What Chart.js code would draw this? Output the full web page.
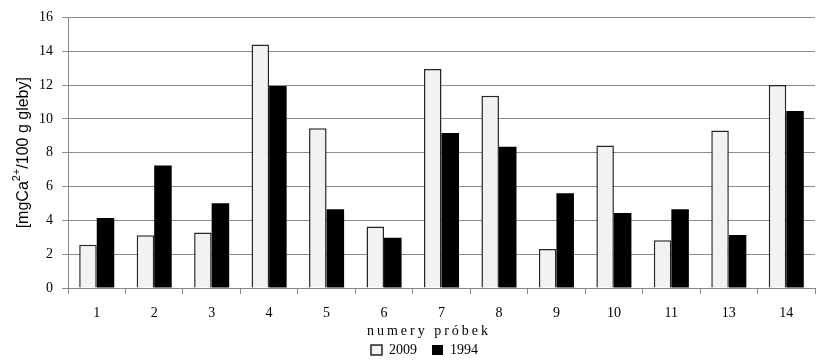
<!DOCTYPE html>
<html>
<head>
<meta charset="utf-8">
<script src="https://cdn.jsdelivr.net/npm/chart.js@4/dist/chart.umd.min.js"></script>
<style>
  html, body { margin: 0; padding: 0; background: #fff; }
  #wrap { width: 823px; height: 360px; }
</style>
</head>
<body>
<div id="wrap"><canvas id="chart"></canvas></div>
<script>
// data
var samples = ['1', '2', '3', '4', '5', '6', '7', '8', '9', '10', '11', '13', '14'];
var values2009 = [2.55, 3.12, 3.28, 14.4, 9.45, 3.63, 12.95, 11.36, 2.3, 8.43, 2.83, 9.31, 12.0];
var values1994 = [4.14, 7.24, 5.01, 11.94, 4.66, 2.97, 9.17, 8.35, 5.6, 4.43, 4.66, 3.14, 10.46];
var yTicks = [0, 2, 4, 6, 8, 10, 12, 14, 16];

var serif = '"Liberation Serif", "Times New Roman", serif';
var sans = '"Liberation Sans", Arial, sans-serif';

// axis titles drawn by hand: letter spacing on x, superscript on y
var titles = {
  id: 'titles',
  afterDraw: function (chart) {
    var ctx = chart.ctx;
    var area = chart.chartArea;

    ctx.save();
    ctx.fillStyle = '#000';
    ctx.font = '14px ' + serif;
    ctx.textAlign = 'center';
    ctx.textBaseline = 'middle';
    ctx.letterSpacing = '3px';
    ctx.fillText('numery próbek', 429, 331);
    ctx.restore();

    ctx.save();
    ctx.translate(24, (area.top + area.bottom) / 2);
    ctx.rotate(-Math.PI / 2);
    ctx.fillStyle = '#000';
    ctx.textBaseline = 'middle';
    ctx.textAlign = 'left';
    var big = '16px ' + sans, small = '11px ' + sans;
    var a = '[mgCa', b = '2+', c = '/100 g gleby]';
    ctx.font = big;
    var wa = ctx.measureText(a).width, wc = ctx.measureText(c).width;
    ctx.font = small;
    var wb = ctx.measureText(b).width;
    var x = -(wa + wb + wc) / 2;
    ctx.font = big;
    ctx.fillText(a, x, 0);
    ctx.font = small;
    ctx.fillText(b, x + wa, -7);
    ctx.font = big;
    ctx.fillText(c, x + wa + wb, 0);
    ctx.restore();
  }
};

new Chart(document.getElementById('chart'), {
  type: 'bar',
  data: {
    labels: samples,
    datasets: [{
      label: '2009',
      data: values2009,
      backgroundColor: '#f2f2f2',
      borderColor: '#262626',
      borderWidth: 1.5
    }, {
      label: '1994',
      data: values1994,
      backgroundColor: '#000',
      borderColor: '#000',
      borderWidth: 0
    }]
  },
  options: {
    responsive: true,
    maintainAspectRatio: false,
    animation: false,
    layout: { padding: { left: 34, right: 8, top: 14, bottom: 0 } },
    datasets: { bar: { categoryPercentage: 0.61, barPercentage: 1 } },
    plugins: {
      tooltip: { enabled: false },
      legend: {
        position: 'bottom',
        maxHeight: 32,
        labels: {
          color: '#000',
          font: { family: serif, size: 14 },
          boxWidth: 11,
          boxHeight: 10,
          padding: 15,
          useBorderRadius: false
        }
      }
    },
    scales: {
      x: {
        grid: { drawOnChartArea: false, color: '#888', tickLength: 6 },
        border: { color: '#888' },
        ticks: { color: '#000', font: { family: serif, size: 14 }, padding: 11, maxRotation: 0 },
        afterFit: function (s) { s.height = 40; }
      },
      y: {
        min: 0,
        max: 16,
        afterBuildTicks: function (s) { s.ticks = yTicks.map(function (v) { return { value: v }; }); },
        grid: { color: '#8c8c8c', tickLength: 6 },
        border: { color: '#888' },
        ticks: { color: '#000', font: { family: serif, size: 14 }, padding: 9 },
        afterFit: function (s) { s.width = 34; }
      }
    }
  },
  plugins: [titles]
});
</script>
</body>
</html>
